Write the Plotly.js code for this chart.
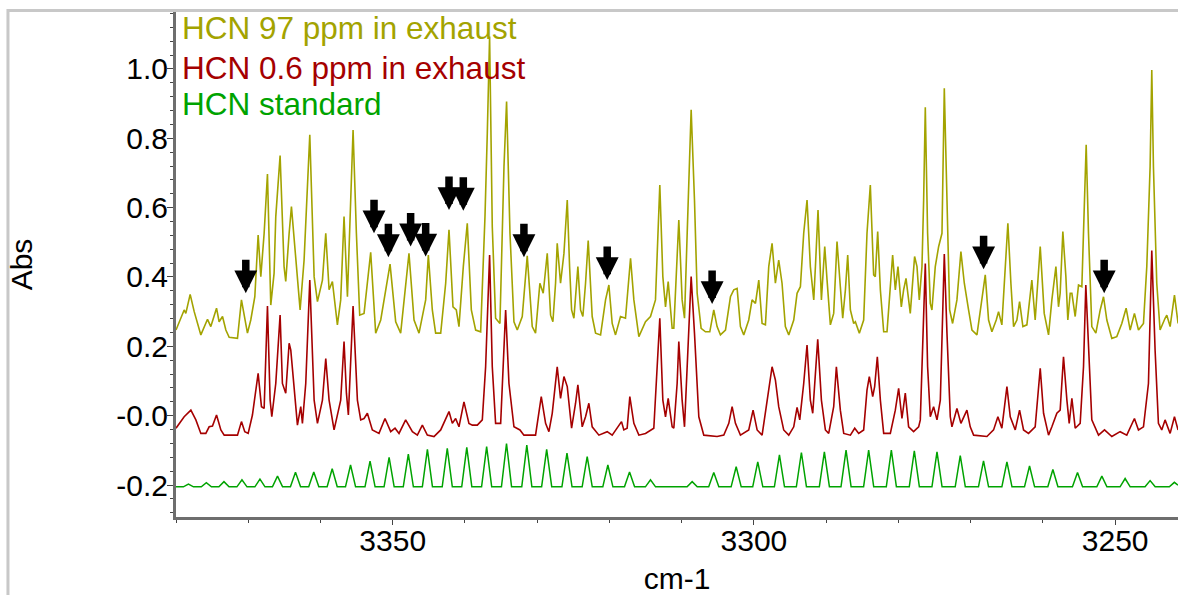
<!DOCTYPE html>
<html>
<head>
<meta charset="utf-8">
<script src="https://cdn.plot.ly/plotly-3.0.1.min.js"></script>
<style>
  html, body { margin: 0; padding: 0; background: #ffffff; }
  #chart { width: 1178px; height: 595px; }
</style>
</head>
<body>
<div id="chart"></div>
<script>
// ---- Series: HCN 97 ppm in exhaust (wavenumber cm-1, absorbance) ----
const hcn97_x = [
  3380.00, 3378.87, 3378.64, 3378.04, 3377.48, 3376.56, 3375.64, 3375.18, 3374.39, 3374.03,
  3373.56, 3373.10, 3372.64, 3371.49, 3370.94, 3370.48, 3370.11, 3369.65, 3369.09, 3368.63,
  3368.26, 3367.80, 3367.34, 3366.88, 3366.42, 3366.19, 3365.59, 3365.04, 3364.81, 3364.34,
  3364.02, 3362.82,
  3362.27, 3361.48, 3360.88, 3360.42, 3359.73, 3359.27, 3358.81, 3358.35, 3357.66, 3357.20,
  3356.74, 3356.27, 3355.81, 3355.49, 3355.03, 3354.57, 3353.97, 3353.05, 3352.36, 3351.66,
  3350.37, 3349.59, 3348.90, 3347.75, 3347.05, 3346.36,
  3345.44, 3345.07, 3344.52, 3344.06, 3343.36, 3342.67, 3342.21, 3341.66, 3341.20, 3340.83,
  3340.23, 3339.68, 3339.12, 3338.52, 3337.83, 3337.23, 3336.91, 3336.59, 3336.22, 3335.76,
  3335.16, 3334.60, 3334.24, 3333.77, 3333.22, 3332.76, 3332.07, 3331.38, 3330.69, 3330.23,
  3329.63, 3329.17, 3328.61,
  3328.15, 3327.83, 3327.46, 3327.23, 3326.77, 3326.30, 3325.84, 3325.52, 3325.24, 3324.92,
  3324.37, 3324.00, 3323.68, 3323.31, 3322.94, 3322.39, 3321.92, 3321.23, 3320.54, 3320.08,
  3319.62, 3319.16, 3318.47, 3317.78, 3317.08, 3316.62, 3315.93, 3315.01, 3314.32, 3313.63,
  3313.03, 3312.61, 3312.24, 3311.87, 3311.32,
  3311.09, 3310.63, 3310.40, 3309.94, 3309.61, 3309.24, 3308.69, 3308.23, 3307.86, 3307.31,
  3306.71, 3306.11, 3305.56, 3305.10, 3304.64, 3303.94, 3303.25, 3302.79, 3302.33, 3301.87,
  3301.41, 3300.72, 3300.26, 3299.79, 3299.33, 3298.87, 3298.41, 3297.95, 3297.49, 3297.03,
  3296.57, 3296.11, 3295.65, 3295.18, 3294.49,
  3294.03, 3293.57, 3293.11, 3292.65, 3292.19, 3291.72, 3291.49, 3291.13, 3290.66, 3290.20,
  3289.88, 3289.42, 3288.96, 3288.50, 3288.04, 3287.71, 3287.34, 3287.02, 3286.65, 3286.19,
  3285.96, 3285.41, 3284.81, 3284.35, 3283.89, 3283.43, 3283.20, 3282.87, 3282.50, 3282.04,
  3281.58, 3281.12, 3280.80, 3280.43, 3280.06, 3279.60, 3279.28, 3278.95, 3278.36, 3277.76,
  3277.43, 3277.11,
  3276.74, 3276.51, 3276.28, 3275.96, 3275.59, 3275.36, 3274.90, 3274.43, 3273.97, 3273.65,
  3273.28, 3272.91, 3272.50, 3271.90, 3271.35, 3270.88, 3270.29, 3269.82, 3269.13, 3268.44,
  3267.98, 3267.52, 3267.06, 3266.46, 3266.14, 3265.68, 3265.21, 3264.85, 3264.43, 3264.06,
  3263.60, 3263.23, 3262.77, 3262.22, 3261.53, 3261.07, 3260.37, 3259.82, 3259.22,
  3258.76, 3258.20, 3257.84, 3257.61, 3257.24, 3256.82, 3256.55, 3256.22, 3255.99, 3255.53,
  3255.07, 3254.61, 3254.24, 3254.01, 3253.69, 3253.23, 3252.67, 3252.07, 3251.61, 3251.15,
  3250.46, 3249.77, 3249.08, 3248.48, 3247.92, 3247.33, 3246.77, 3246.08, 3245.62, 3245.16,
  3244.93, 3244.70, 3244.24, 3243.78, 3243.09, 3242.85, 3242.39, 3241.79, 3241.29
];
const hcn97_y = [
  0.247, 0.305, 0.295, 0.350, 0.300, 0.233, 0.278, 0.257, 0.310, 0.271,
  0.286, 0.247, 0.226, 0.223, 0.334, 0.276, 0.238, 0.276, 0.343, 0.521,
  0.401, 0.526, 0.697, 0.319, 0.411, 0.574, 0.750, 0.430, 0.387, 0.526,
  0.603, 0.305,
  0.449, 0.810, 0.401, 0.329, 0.391, 0.526, 0.363, 0.387, 0.262, 0.334,
  0.574, 0.343, 0.641, 0.824, 0.526, 0.290, 0.295, 0.471, 0.238, 0.276,
  0.437, 0.271, 0.238, 0.468, 0.276, 0.238,
  0.334, 0.463, 0.305, 0.238, 0.238, 0.382, 0.536, 0.314, 0.305, 0.257,
  0.430, 0.555, 0.305, 0.247, 0.242, 0.574, 0.814, 1.093, 0.545, 0.281,
  0.266, 0.718, 0.906, 0.526, 0.271, 0.247, 0.286, 0.461, 0.257, 0.238,
  0.382, 0.353, 0.468,
  0.290, 0.271, 0.382, 0.497, 0.382, 0.468, 0.622, 0.430, 0.305, 0.281,
  0.430, 0.305, 0.286, 0.382, 0.505, 0.286, 0.238, 0.233, 0.334, 0.377,
  0.266, 0.233, 0.286, 0.281, 0.454, 0.334, 0.228, 0.271, 0.286, 0.334,
  0.665, 0.401, 0.314, 0.387, 0.252,
  0.252, 0.449, 0.564, 0.334, 0.281, 0.526, 0.882, 0.622, 0.353, 0.252,
  0.242, 0.242, 0.305, 0.257, 0.233, 0.247, 0.343, 0.363, 0.367, 0.257,
  0.233, 0.276, 0.334, 0.324, 0.391, 0.266, 0.262, 0.430, 0.497, 0.382,
  0.449, 0.382, 0.257, 0.233, 0.276,
  0.353, 0.372, 0.526, 0.622, 0.430, 0.334, 0.430, 0.593, 0.334, 0.488,
  0.391, 0.262, 0.295, 0.502, 0.372, 0.281, 0.363, 0.463, 0.305, 0.266,
  0.271, 0.238, 0.276, 0.526, 0.665, 0.406, 0.401, 0.531, 0.363, 0.242,
  0.242, 0.382, 0.463, 0.363, 0.430, 0.314, 0.363, 0.396, 0.295, 0.459,
  0.430, 0.334,
  0.430, 0.622, 0.889, 0.526, 0.324, 0.305, 0.430, 0.488, 0.526, 0.944,
  0.622, 0.305, 0.266, 0.334, 0.473, 0.382, 0.305, 0.247, 0.233, 0.334,
  0.406, 0.276, 0.242, 0.276, 0.300, 0.262, 0.449, 0.555, 0.382, 0.257,
  0.276, 0.329, 0.257, 0.262, 0.391, 0.276, 0.488, 0.295, 0.233,
  0.334, 0.430, 0.314, 0.353, 0.531, 0.401, 0.276, 0.353, 0.353, 0.286,
  0.377, 0.372, 0.622, 0.781, 0.526, 0.257, 0.238, 0.305, 0.343, 0.276,
  0.223, 0.228, 0.266, 0.310, 0.247, 0.295, 0.247, 0.266, 0.430, 0.718,
  0.997, 0.718, 0.382, 0.247, 0.281, 0.290, 0.257, 0.348, 0.266
];

// ---- Series: HCN 0.6 ppm in exhaust ----
const hcn06_x = [
  3380.00, 3378.87, 3377.94, 3377.25, 3376.56, 3375.87, 3375.41, 3374.95, 3374.39, 3373.79,
  3373.33, 3371.49, 3370.94, 3370.48, 3370.01, 3369.42, 3368.63, 3368.17, 3367.80, 3367.34,
  3366.97, 3366.74, 3366.19, 3365.59, 3365.27, 3364.81, 3364.34, 3364.11, 3363.19,
  3362.73, 3362.50, 3362.04, 3361.48, 3360.88, 3360.42, 3359.73, 3359.27, 3358.81, 3358.12,
  3357.20, 3356.74, 3356.41, 3356.14, 3355.81, 3355.49, 3354.89, 3354.43, 3353.97, 3353.51,
  3352.82, 3351.90, 3351.07, 3350.28, 3349.68, 3349.13, 3348.21, 3347.28, 3346.59, 3345.90,
  3345.21,
  3344.29, 3343.36, 3342.21, 3341.75, 3341.29, 3340.83, 3340.14, 3339.45, 3338.98, 3338.29,
  3337.60, 3337.14, 3336.59, 3336.22, 3335.76, 3335.06, 3334.70, 3334.37, 3333.91, 3333.22,
  3332.39, 3331.84, 3330.23, 3329.77, 3329.44, 3328.84,
  3328.38, 3327.92, 3327.23, 3326.77, 3326.30, 3325.84, 3325.24, 3324.69, 3324.37, 3323.77,
  3323.31, 3322.85, 3322.39, 3321.46, 3320.31, 3319.62, 3318.33, 3318.01, 3317.55, 3317.18,
  3316.62, 3315.93, 3315.01, 3313.86, 3313.03, 3312.61, 3312.24, 3311.87, 3311.32,
  3311.09, 3310.63, 3310.40, 3309.94, 3309.61, 3309.24, 3308.69, 3308.23, 3307.63, 3306.94,
  3305.10, 3304.17, 3303.48, 3303.02, 3302.56, 3301.87, 3300.72, 3300.12, 3299.56, 3298.87,
  3298.18, 3297.49, 3297.03, 3296.57, 3295.88, 3295.18, 3294.49, 3294.03, 3293.66,
  3293.11, 3292.65, 3292.19, 3291.86, 3291.49, 3291.17, 3290.66, 3290.11, 3289.65, 3288.96,
  3288.59, 3288.04, 3287.57, 3286.65, 3286.05, 3285.50, 3284.81, 3284.35, 3284.03, 3283.56,
  3283.29, 3282.92, 3282.50, 3282.04, 3281.12, 3280.43, 3279.97, 3279.51, 3279.05, 3278.59,
  3277.90, 3277.20,
  3276.97, 3276.60, 3276.28, 3275.96, 3275.59, 3275.13, 3274.66, 3274.20, 3273.65, 3273.28,
  3272.82, 3272.59, 3271.90, 3271.35, 3270.52, 3270.06, 3269.59, 3267.75, 3266.83, 3266.23,
  3265.68, 3264.98, 3264.52, 3263.83, 3263.23, 3262.68, 3261.99, 3261.07, 3260.37, 3259.91,
  3259.22,
  3258.76, 3258.07, 3257.61, 3257.15, 3256.68, 3256.36, 3255.99, 3255.53, 3254.84, 3254.38,
  3254.06, 3253.69, 3253.23, 3252.30, 3251.47, 3250.46, 3249.31, 3248.39, 3247.33, 3246.77,
  3246.08, 3245.39, 3244.93, 3244.47, 3244.01, 3243.55, 3243.09, 3242.39, 3241.79, 3241.29
];
const hcn06_y = [
  -0.036, -0.003, 0.016, -0.012, -0.051, -0.051, -0.032, -0.030, 0.002, -0.041,
  -0.056, -0.056, -0.017, -0.046, -0.051, 0.002, 0.122, 0.026, 0.021, 0.316,
  0.045, -0.003, 0.093, 0.290, 0.093, 0.065, 0.209, 0.189, -0.027,
  0.026, -0.022, 0.093, 0.391, 0.045, -0.022, 0.045, 0.165, 0.045, -0.041,
  0.045, 0.214, 0.065, 0.002, 0.141, 0.316, 0.045, -0.012, -0.008, 0.007,
  -0.041, -0.051, -0.008, -0.046, -0.036, -0.051, -0.012, -0.046, -0.056, -0.027,
  -0.056,
  -0.060, -0.041, 0.012, -0.022, -0.008, -0.032, 0.040, -0.022, -0.027, -0.027,
  -0.012, 0.141, 0.463, 0.141, -0.022, -0.022, 0.141, 0.305, 0.093, -0.032,
  -0.041, -0.056, -0.056, 0.007, 0.055, -0.022,
  -0.046, 0.007, 0.141, 0.050, 0.113, 0.084, -0.036, 0.036, 0.089, -0.032,
  -0.003, 0.036, -0.032, -0.056, -0.046, -0.056, -0.017, -0.041, -0.036, 0.055,
  -0.022, -0.056, -0.051, -0.036, 0.281, 0.045, -0.003, 0.050, -0.032,
  -0.036, 0.093, 0.214, 0.045, -0.032, 0.141, 0.401, 0.238, -0.003, -0.056,
  -0.060, -0.056, -0.022, 0.026, -0.022, -0.056, -0.041, 0.016, -0.041, -0.056,
  0.045, 0.141, 0.103, 0.026, -0.041, -0.056, -0.032, 0.024, -0.012,
  0.093, 0.204, 0.045, 0.007, 0.141, 0.220, 0.045, -0.041, -0.051, 0.026,
  0.141, 0.016, -0.051, -0.056, -0.036, -0.051, -0.041, 0.074, 0.113, 0.055,
  0.084, 0.170, 0.045, -0.051, -0.051, 0.016, 0.079, -0.008, 0.065, -0.032,
  -0.046, -0.032,
  -0.012, 0.238, 0.439, 0.141, -0.003, 0.026, -0.012, 0.045, 0.466, 0.238,
  -0.003, -0.032, 0.021, -0.022, 0.016, -0.032, -0.056, -0.060, -0.041, -0.003,
  -0.036, 0.084, -0.003, -0.041, 0.016, -0.041, -0.051, -0.032, 0.137, 0.007,
  -0.056,
  -0.032, 0.007, 0.016, 0.170, 0.045, -0.022, 0.050, -0.036, -0.022, 0.141,
  0.377, 0.189, -0.012, -0.056, -0.041, -0.060, -0.046, -0.056, -0.008, -0.041,
  -0.032, 0.093, 0.476, 0.189, -0.022, -0.041, -0.012, -0.051, -0.003, -0.041
];

// ---- Series: HCN standard ----
const std_x = [
  3380.00,
  3378.98, 3378.28, 3377.58, 3376.50, 3375.80, 3375.10, 3374.06, 3373.36, 3372.66,
  3371.57, 3370.87, 3370.17, 3369.08, 3368.38, 3367.68, 3366.65, 3365.95, 3365.25,
  3364.16, 3363.46, 3362.76, 3361.63, 3360.93, 3360.23, 3359.08, 3358.38, 3357.68,
  3356.54, 3355.84, 3355.14, 3353.84, 3353.14, 3352.44, 3351.20, 3350.50, 3349.80,
  3348.54, 3347.84, 3347.14, 3345.90, 3345.20, 3344.50, 3343.15, 3342.45, 3341.75,
  3340.45, 3339.75, 3339.05, 3337.70, 3337.00, 3336.30, 3334.95, 3334.25, 3333.55,
  3332.14, 3331.44, 3330.74, 3329.39, 3328.69, 3327.99, 3326.58, 3325.88, 3325.18,
  3323.78, 3323.08, 3322.38, 3320.92, 3320.22, 3319.52, 3317.92, 3317.22, 3316.52,
  3315.02, 3314.32, 3313.62, 3309.25, 3308.55, 3307.85, 3306.26, 3305.56, 3304.86,
  3303.16, 3302.46, 3301.76, 3300.17, 3299.47, 3298.77, 3297.17, 3296.47, 3295.77,
  3294.13, 3293.43, 3292.73, 3290.95, 3290.25, 3289.55, 3287.95, 3287.25, 3286.55,
  3284.82, 3284.12, 3283.42, 3281.68, 3280.98, 3280.28, 3278.50, 3277.80, 3277.10,
  3275.36, 3274.66, 3273.96, 3272.14, 3271.44, 3270.74, 3268.92, 3268.22, 3267.52,
  3265.68, 3264.98, 3264.28, 3262.55, 3261.85, 3261.15, 3259.32, 3258.62, 3257.92,
  3255.91, 3255.21, 3254.51, 3252.54, 3251.84, 3251.14, 3249.32, 3248.62, 3247.92,
  3245.86, 3245.16, 3244.46, 3242.50, 3241.80, 3241.30
];
const std_y = [
  -0.205,
  -0.205, -0.197, -0.205, -0.205, -0.193, -0.205, -0.205, -0.190, -0.205,
  -0.205, -0.185, -0.205, -0.205, -0.183, -0.205, -0.205, -0.174, -0.205,
  -0.205, -0.163, -0.205, -0.205, -0.162, -0.205, -0.205, -0.153, -0.205,
  -0.205, -0.142, -0.205, -0.205, -0.131, -0.205, -0.205, -0.120, -0.205,
  -0.205, -0.111, -0.205, -0.205, -0.097, -0.205, -0.205, -0.094, -0.205,
  -0.205, -0.091, -0.205, -0.205, -0.089, -0.205, -0.205, -0.080, -0.205,
  -0.205, -0.085, -0.205, -0.205, -0.097, -0.205, -0.205, -0.108, -0.205,
  -0.205, -0.118, -0.205, -0.205, -0.142, -0.205, -0.205, -0.162, -0.205,
  -0.205, -0.185, -0.205, -0.205, -0.190, -0.205, -0.205, -0.164, -0.205,
  -0.205, -0.147, -0.205, -0.205, -0.133, -0.205, -0.205, -0.113, -0.205,
  -0.205, -0.106, -0.205, -0.205, -0.104, -0.205, -0.205, -0.099, -0.205,
  -0.205, -0.099, -0.205, -0.205, -0.099, -0.205, -0.205, -0.101, -0.205,
  -0.205, -0.104, -0.205, -0.205, -0.115, -0.205, -0.205, -0.130, -0.205,
  -0.205, -0.133, -0.205, -0.205, -0.145, -0.205, -0.205, -0.155, -0.205,
  -0.205, -0.164, -0.205, -0.205, -0.174, -0.205, -0.205, -0.181, -0.205,
  -0.205, -0.187, -0.205, -0.205, -0.192, -0.200
];

// ---- Marked lines (arrow tips) ----
const arrow_x = [3370.34, 3352.59, 3350.60, 3347.52, 3345.44, 3342.21, 3340.23, 3331.84, 3320.31, 3305.79, 3268.21, 3251.52];
const arrow_y = [0.353, 0.526, 0.457, 0.488, 0.459, 0.593, 0.591, 0.457, 0.391, 0.322, 0.422, 0.353];

// ---- Labels ----
const series_names = ['HCN 97 ppm in exhaust', 'HCN 0.6 ppm in exhaust', 'HCN standard'];
const series_colors = ['#a3a300', '#a50000', '#00a300'];
const y_tickvals = [-0.2, 0, 0.2, 0.4, 0.6, 0.8, 1.0];
const y_ticktext = ['-0.2', '-0.0', '0.2', '0.4', '0.6', '0.8', '1.0'];
const x_tickvals = [3350, 3300, 3250];
const x_ticktext = ['3350', '3300', '3250'];

const FONT = 'Liberation Sans, Arial, Helvetica, sans-serif';

const traces = [
  {x: hcn97_x, y: hcn97_y, name: series_names[0], type: 'scatter', mode: 'lines',
   line: {color: series_colors[0], width: 1.6}},
  {x: hcn06_x, y: hcn06_y, name: series_names[1], type: 'scatter', mode: 'lines',
   line: {color: series_colors[1], width: 1.6}},
  {x: std_x, y: std_y, name: series_names[2], type: 'scatter', mode: 'lines',
   line: {color: series_colors[2], width: 1.5}}
];

const annotations = [];
const legendY = [0.969, 0.889, 0.818];
for (let i = 0; i < series_names.length; i++) {
  annotations.push({
    xref: 'paper', yref: 'paper', x: 0.004, y: legendY[i],
    xanchor: 'left', yanchor: 'middle', showarrow: false,
    text: series_names[i],
    font: {family: FONT, size: 31.5, color: series_colors[i]}
  });
}
for (let i = 0; i < arrow_x.length; i++) {
  annotations.push({
    xref: 'x', yref: 'y', x: arrow_x[i], y: arrow_y[i],
    text: '', showarrow: true, ax: 0, ay: -35,
    arrowhead: 2, arrowsize: 0.61, arrowwidth: 7.5, arrowcolor: '#000000',
    standoff: 0
  });
}

const layout = {
  width: 1178, height: 595,
  margin: {l: 176, r: 0, t: 12, b: 78, pad: 0},
  paper_bgcolor: '#ffffff', plot_bgcolor: '#ffffff',
  showlegend: false,
  font: {family: FONT, size: 30, color: '#000000'},
  xaxis: {
    range: [3380, 3241.3],
    tickmode: 'array', tickvals: x_tickvals, ticktext: x_ticktext,
    ticks: 'outside', ticklen: 5, tickwidth: 1, tickcolor: '#444444',
    ticklabelstandoff: -10,
    showline: true, linecolor: '#6e6e6e', linewidth: 3,
    showgrid: false, zeroline: false,
    tickfont: {family: FONT, size: 30, color: '#000000'},
    minor: {tickmode: 'linear', tick0: 3250, dtick: 10, ticks: 'outside', ticklen: 3, tickwidth: 1, tickcolor: '#444444', showgrid: false},
    title: {text: 'cm-1', font: {family: FONT, size: 30, color: '#000000'}, standoff: 14}
  },
  yaxis: {
    range: [-0.292, 1.164],
    tickmode: 'array', tickvals: y_tickvals, ticktext: y_ticktext,
    ticks: 'outside', ticklen: 6, tickwidth: 1, tickcolor: '#444444',
    ticklabelstandoff: -7,
    showline: true, linecolor: '#6e6e6e', linewidth: 3,
    showgrid: false, zeroline: false,
    tickfont: {family: FONT, size: 30, color: '#000000'},
    minor: {tickmode: 'linear', tick0: 0, dtick: 0.04, ticks: 'outside', ticklen: 3, tickwidth: 1, tickcolor: '#444444', showgrid: false},
    title: {text: 'Abs', font: {family: FONT, size: 30, color: '#000000'}, standoff: 75}
  },
  shapes: [
    {type: 'rect', xref: 'paper', yref: 'paper',
     x0: -0.1677, x1: 1.05, y0: -0.3, y1: 1.003,
     line: {color: '#c8c8c8', width: 3}, fillcolor: 'rgba(0,0,0,0)', layer: 'above'}
  ],
  annotations: annotations
};

Plotly.newPlot('chart', traces, layout, {displayModeBar: false, staticPlot: true});
</script>
</body>
</html>
